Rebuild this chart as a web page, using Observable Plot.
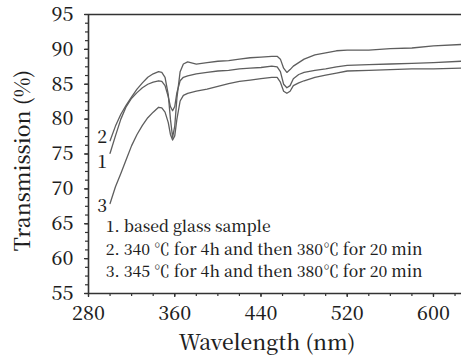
<!DOCTYPE html>
<html>
<head>
<meta charset="utf-8">
<script src="https://cdn.jsdelivr.net/npm/d3@7"></script>
<script src="https://cdn.jsdelivr.net/npm/@observablehq/plot@0.6"></script>
<style>
  html, body { margin: 0; padding: 0; background: #fff; }
  #chart svg { display: block; }
  #chart svg, #chart svg text, #chart svg g { font-family: "Noto Serif CJK SC", "Liberation Serif", serif !important; }
</style>
</head>
<body>
<div id="chart"></div>
<script>
const wavelength = [300, 305, 310, 315, 320, 325, 330, 335, 340, 345, 348, 351, 354, 356, 358, 360, 362, 365, 368, 372, 380, 390, 400, 410, 420, 430, 440, 450, 455, 458, 461, 464, 467, 470, 475, 480, 490, 500, 510, 520, 540, 560, 580, 600, 626];

const series2 = [76.9, 79.0, 80.7, 82.0, 83.2, 84.3, 85.2, 86.0, 86.5, 86.8, 86.7, 86.0, 83.5, 80.0, 77.4, 79.0, 83.0, 86.8, 87.9, 88.2, 87.9, 88.1, 88.3, 88.4, 88.6, 88.8, 88.9, 89.0, 89.0, 88.6, 87.3, 86.7, 87.1, 87.6, 88.1, 88.6, 89.2, 89.5, 89.8, 89.9, 89.9, 90.1, 90.2, 90.5, 90.7];

const series1 = [75.1, 77.6, 80.0, 81.8, 83.0, 83.8, 84.5, 85.0, 85.3, 85.5, 85.4, 84.8, 83.2, 81.8, 81.2, 81.8, 83.8, 85.5, 86.0, 86.2, 86.5, 86.7, 86.9, 87.0, 87.2, 87.3, 87.4, 87.6, 87.5, 86.8, 85.0, 84.5, 84.8, 85.8, 86.4, 86.7, 87.0, 87.2, 87.5, 87.7, 87.8, 87.9, 88.0, 88.1, 88.3];

const series3 = [67.9, 70.3, 72.2, 74.2, 76.2, 77.8, 79.1, 80.2, 81.0, 81.7, 81.6, 81.0, 79.5, 77.8, 77.0, 77.6, 80.0, 82.6, 83.4, 83.7, 84.0, 84.3, 84.7, 85.1, 85.4, 85.6, 85.8, 86.0, 86.0, 85.3, 84.0, 83.7, 84.0, 84.8, 85.2, 85.5, 86.0, 86.3, 86.6, 86.9, 87.0, 87.1, 87.2, 87.2, 87.3];

const seriesNames = ["1", "2", "3"];
const legendLines = [
  "1. based glass sample",
  "2. 340 ℃ for 4h and then 380℃ for 20 min",
  "3. 345 ℃ for 4h and then 380℃ for 20 min"
];
const xMajorTicks = [280, 360, 440, 520, 600];
const yMajorTicks = [55, 60, 65, 70, 75, 80, 85, 90, 95];
const xLabel = "Wavelength (nm)";
const yLabel = "Transmission (%)";

const xMinorTicks = d3.range(280, 627, 20);
const yMinorTicks = d3.range(55, 95.01, 1.25);

const toRows = (vals, name) => vals.map((v, i) => ({w: wavelength[i], t: v, s: name}));
const rows1 = toRows(series1, "1");
const rows2 = toRows(series2, "2");
const rows3 = toRows(series3, "3");

// legend anchor positions in data coordinates
const legendX = 296;
const legendY = [64.5, 61.3, 58.1];
const legendRows = legendLines.map((t, i) => ({x: legendX, y: legendY[i], t}));

const font = "Noto Serif CJK SC, Liberation Serif, serif";
const ink = "#333";
const curve = "#5e5e5e";
const txt = "#1e1e1e";

const chart = Plot.plot({
  width: 461,
  height: 362,
  marginLeft: 88,
  marginRight: 0,
  marginTop: 14,
  marginBottom: 69,
  style: {fontFamily: font, fontSize: "18px", color: ink, background: "#fff", overflow: "visible"},
  x: {domain: [280, 626]},
  y: {domain: [55, 95]},
  marks: [
    Plot.axisX({ticks: xMinorTicks, tickSize: 3, text: null, stroke: ink, strokeWidth: 1.2, label: null}),
    Plot.axisX({ticks: xMajorTicks, tickSize: 4, tickPadding: 9, stroke: ink, strokeWidth: 1.3, fontSize: 19.5, fontWeight: 500, fill: txt, label: null}),
    Plot.axisY({ticks: yMinorTicks, tickSize: 3, text: null, stroke: ink, strokeWidth: 1.2, label: null}),
    Plot.axisY({ticks: yMajorTicks, tickSize: 4, tickPadding: 11, stroke: ink, strokeWidth: 1.3, fontSize: 19.5, fontWeight: 500, fill: txt, label: null}),
    Plot.ruleX([280], {stroke: ink, strokeWidth: 1.6}),
    Plot.ruleY([55], {stroke: ink, strokeWidth: 1.6}),
    Plot.ruleY([95], {stroke: ink, strokeWidth: 1.6}),
    Plot.line(rows1, {x: "w", y: "t", stroke: curve, strokeWidth: 1.3}),
    Plot.line(rows2, {x: "w", y: "t", stroke: curve, strokeWidth: 1.3}),
    Plot.line(rows3, {x: "w", y: "t", stroke: curve, strokeWidth: 1.3}),
    Plot.text([rows2[0]], {x: "w", y: "t", text: "s", textAnchor: "end", dx: -3, dy: -3, fontSize: 17.5, fontWeight: 500, fill: txt}),
    Plot.text([rows1[0]], {x: "w", y: "t", text: "s", textAnchor: "end", dx: -3, dy: 9, fontSize: 17.5, fontWeight: 500, fill: txt}),
    Plot.text([rows3[0]], {x: "w", y: "t", text: "s", textAnchor: "end", dx: -3, dy: 3, fontSize: 17.5, fontWeight: 500, fill: txt}),
    Plot.text(legendRows, {x: "x", y: "y", text: "t", textAnchor: "start", fontSize: 15.7, fontWeight: 500, fill: txt}),
    Plot.text([xLabel], {frameAnchor: "bottom", dx: -8, dy: 56, textAnchor: "middle", lineAnchor: "bottom", fontSize: 21, fontWeight: 500, fill: txt}),
    Plot.text([yLabel], {frameAnchor: "left", dx: -65, dy: 6.5, rotate: -90, textAnchor: "middle", lineAnchor: "middle", fontSize: 21, fontWeight: 500, fill: txt})
  ]
});
document.getElementById("chart").append(chart);
</script>
</body>
</html>
